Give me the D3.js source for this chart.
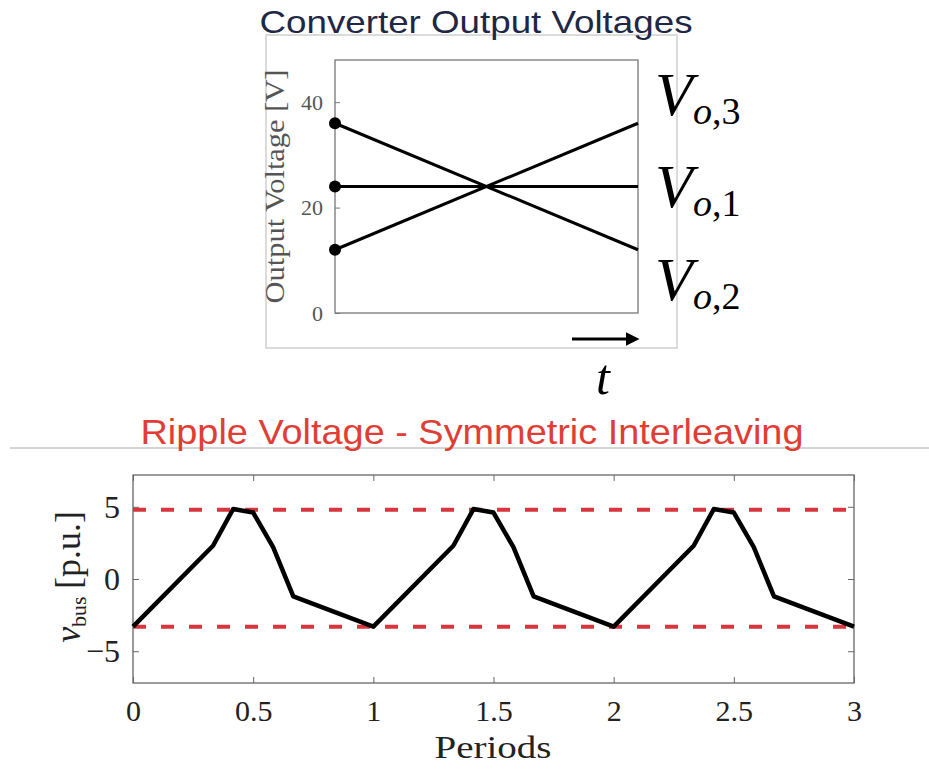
<!DOCTYPE html>
<html>
<head>
<meta charset="utf-8">
<script src="https://cdn.jsdelivr.net/npm/d3@7"></script>
<style>
  body { margin: 0; background: #fff; }
  text { font-family: 'Liberation Serif', 'DejaVu Serif', serif; }
  .sans { font-family: 'Liberation Sans', Arial, sans-serif; }
</style>
</head>
<body>
<svg id="chart"></svg>
<script>
// Top panel: the three converter output voltages across one interval
const outT = [0, 1]
const vo1 = [24, 24]
const vo2 = [36, 12]
const vo3 = [12, 36]
const outYTicks = [0, 20, 40]
const outLabels = ['3', '1', '2']

// Bottom panel: bus ripple voltage over three periods
const periods = [0, 0.333, 0.417, 0.5, 0.583, 0.667, 1,
  1.333, 1.417, 1.5, 1.583, 1.667, 2,
  2.333, 2.417, 2.5, 2.583, 2.667, 3]
const ripple = [-3.3, 2.3, 4.85, 4.6, 2.2, -1.2, -3.3,
  2.3, 4.85, 4.6, 2.2, -1.2, -3.3,
  2.3, 4.85, 4.6, 2.2, -1.2, -3.3]
const rippleBounds = [4.8, -3.3]
const periodTicks = [0, 0.5, 1, 1.5, 2, 2.5, 3]
const rippleTicks = [-5, 0, 5]

const width = 929
const height = 773

const svg = d3.select('#chart')
  .attr('width', width)
  .attr('height', height)

svg.append('defs').append('marker')
  .attr('id', 'head')
  .attr('viewBox', '0 0 10 10')
  .attr('refX', 0)
  .attr('refY', 5)
  .attr('markerWidth', 5)
  .attr('markerHeight', 4.5)
  .attr('markerUnits', 'strokeWidth')
  .attr('orient', 'auto')
  .append('path')
  .attr('d', 'M0,0L10,5L0,10Z')
  .attr('fill', '#000')

// ---------- top panel ----------
// light frame of the pasted figure
svg.append('rect')
  .attr('x', 266).attr('y', 35)
  .attr('width', 411).attr('height', 313)
  .attr('fill', '#fff')
  .attr('stroke', '#cfcfcf')
  .attr('stroke-width', 1.5)

svg.append('text')
  .attr('class', 'sans')
  .attr('x', 476)
  .attr('y', 33)
  .attr('text-anchor', 'middle')
  .attr('font-size', 32)
  .attr('textLength', 433)
  .attr('lengthAdjust', 'spacingAndGlyphs')
  .attr('fill', '#1f2747')
  .text('Converter Output Voltages')

const xTop = d3.scaleLinear().domain([0, 1]).range([335, 638])
const yTop = d3.scaleLinear().domain([0, 48]).range([313, 60])

const topPanel = svg.append('g')

topPanel.append('g')
  .attr('transform', `translate(${xTop.range()[0]},0)`)
  .call(d3.axisLeft(yTop).tickValues(outYTicks).tickSize(-5).tickPadding(12))
  .call(g => g.select('.domain').remove())
  .call(g => g.selectAll('line').attr('stroke', '#777'))
  .call(g => g.selectAll('text').attr('font-size', 22).attr('fill', '#555')
    .attr('font-family', 'Liberation Serif'))

topPanel.append('rect')
  .attr('x', xTop(0)).attr('y', yTop(48))
  .attr('width', xTop(1) - xTop(0))
  .attr('height', yTop(0) - yTop(48))
  .attr('fill', 'none')
  .attr('stroke', '#777')
  .attr('stroke-width', 1.3)

topPanel.append('text')
  .attr('transform', `translate(284,${(yTop(0) + yTop(48)) / 2}) rotate(-90)`)
  .attr('text-anchor', 'middle')
  .attr('font-size', 27)
  .attr('textLength', 234)
  .attr('lengthAdjust', 'spacingAndGlyphs')
  .attr('fill', '#555')
  .text('Output Voltage [V]')

const outLine = d3.line()
  .x(d => xTop(d[0]))
  .y(d => yTop(d[1]))

const outSeries = [vo3, vo1, vo2]
outSeries.forEach(vals => {
  const pts = outT.map((t, i) => [t, vals[i]])
  topPanel.append('path')
    .attr('d', outLine(pts))
    .attr('fill', 'none')
    .attr('stroke', '#000')
    .attr('stroke-width', 3)
  topPanel.append('circle')
    .attr('cx', xTop(outT[0]))
    .attr('cy', yTop(vals[0]))
    .attr('r', 6)
    .attr('fill', '#000')
})

// V_o,k labels to the right of the axes
const labelBase = [115, 207, 300]
outLabels.forEach((k, i) => {
  const t = topPanel.append('text')
    .attr('x', 655)
    .attr('y', labelBase[i])
    .attr('font-size', 62)
    .attr('fill', '#000')
  t.append('tspan').attr('font-style', 'italic').text('V')
  t.append('tspan').attr('font-size', 38).attr('font-style', 'italic').attr('dy', 9).text('o')
  t.append('tspan').attr('font-size', 38).text(',' + k)
})

// time arrow
topPanel.append('line')
  .attr('x1', 572).attr('x2', 626)
  .attr('y1', 339).attr('y2', 339)
  .attr('stroke', '#000')
  .attr('stroke-width', 3)
  .attr('marker-end', 'url(#head)')

topPanel.append('text')
  .attr('x', 603)
  .attr('y', 394)
  .attr('text-anchor', 'middle')
  .attr('font-size', 50)
  .attr('font-style', 'italic')
  .text('t')

// ---------- bottom panel ----------
svg.append('line')
  .attr('x1', 10).attr('x2', width)
  .attr('y1', 448).attr('y2', 448)
  .attr('stroke', '#a8a8a8')
  .attr('stroke-width', 1)

svg.append('text')
  .attr('class', 'sans')
  .attr('x', 472)
  .attr('y', 444)
  .attr('text-anchor', 'middle')
  .attr('font-size', 35)
  .attr('textLength', 663)
  .attr('lengthAdjust', 'spacingAndGlyphs')
  .attr('fill', '#df3e35')
  .text('Ripple Voltage - Symmetric Interleaving')

const xBot = d3.scaleLinear().domain([0, 3]).range([133, 854])
const yBot = d3.scaleLinear().domain([-7.2, 7.2]).range([683, 475])

const botPanel = svg.append('g')

botPanel.append('g')
  .attr('transform', `translate(0,${yBot.range()[0]})`)
  .call(d3.axisBottom(xBot).tickValues(periodTicks).tickSize(-6).tickPadding(17)
    .tickFormat(d3.format('')))
  .call(g => g.select('.domain').remove())
  .call(g => g.selectAll('text').attr('font-size', 30))

botPanel.append('g')
  .attr('transform', `translate(0,${yBot.range()[1]})`)
  .call(d3.axisTop(xBot).tickValues(periodTicks).tickSize(-6).tickFormat(''))
  .call(g => g.select('.domain').remove())

botPanel.append('g')
  .attr('transform', `translate(${xBot.range()[0]},0)`)
  .call(d3.axisLeft(yBot).tickValues(rippleTicks).tickSize(-6).tickPadding(13))
  .call(g => g.select('.domain').remove())
  .call(g => g.selectAll('text').attr('font-size', 32))

botPanel.append('g')
  .attr('transform', `translate(${xBot.range()[1]},0)`)
  .call(d3.axisRight(yBot).tickValues(rippleTicks).tickSize(-6).tickFormat(''))
  .call(g => g.select('.domain').remove())

botPanel.selectAll('.tick line').attr('stroke', '#666')
botPanel.selectAll('.tick text')
  .attr('font-family', 'Liberation Serif')
  .attr('fill', '#222')

botPanel.append('rect')
  .attr('x', xBot(0)).attr('y', yBot(7.2))
  .attr('width', xBot(3) - xBot(0))
  .attr('height', yBot(-7.2) - yBot(7.2))
  .attr('fill', 'none')
  .attr('stroke', '#666')
  .attr('stroke-width', 1.3)

botPanel.selectAll('line.bound')
  .data(rippleBounds)
  .join('line')
  .attr('class', 'bound')
  .attr('x1', xBot(0)).attr('x2', xBot(3))
  .attr('y1', d => yBot(d)).attr('y2', d => yBot(d))
  .attr('stroke', '#d8363f')
  .attr('stroke-width', 4)
  .attr('stroke-dasharray', '13,15')

const rippleLine = d3.line()
  .x(d => xBot(d[0]))
  .y(d => yBot(d[1]))

botPanel.append('path')
  .attr('d', rippleLine(periods.map((p, i) => [p, ripple[i]])))
  .attr('fill', 'none')
  .attr('stroke', '#000')
  .attr('stroke-width', 4.5)
  .attr('stroke-linejoin', 'round')

// v_bus [p.u.] axis title
const yl = botPanel.append('text')
  .attr('transform', `translate(80,${(yBot(-7.2) + yBot(7.2)) / 2 - 2}) rotate(-90)`)
  .attr('text-anchor', 'middle')
  .attr('font-size', 36)
  .attr('fill', '#222')
yl.append('tspan').attr('font-style', 'italic').text('v')
yl.append('tspan').attr('font-size', 22).attr('dy', 6).text('bus')
yl.append('tspan').attr('dy', -6).text('\u2009[p.u.]')

botPanel.append('text')
  .attr('x', 493)
  .attr('y', 758)
  .attr('text-anchor', 'middle')
  .attr('font-size', 31)
  .attr('textLength', 117)
  .attr('lengthAdjust', 'spacingAndGlyphs')
  .attr('fill', '#222')
  .text('Periods')
</script>
</body>
</html>
